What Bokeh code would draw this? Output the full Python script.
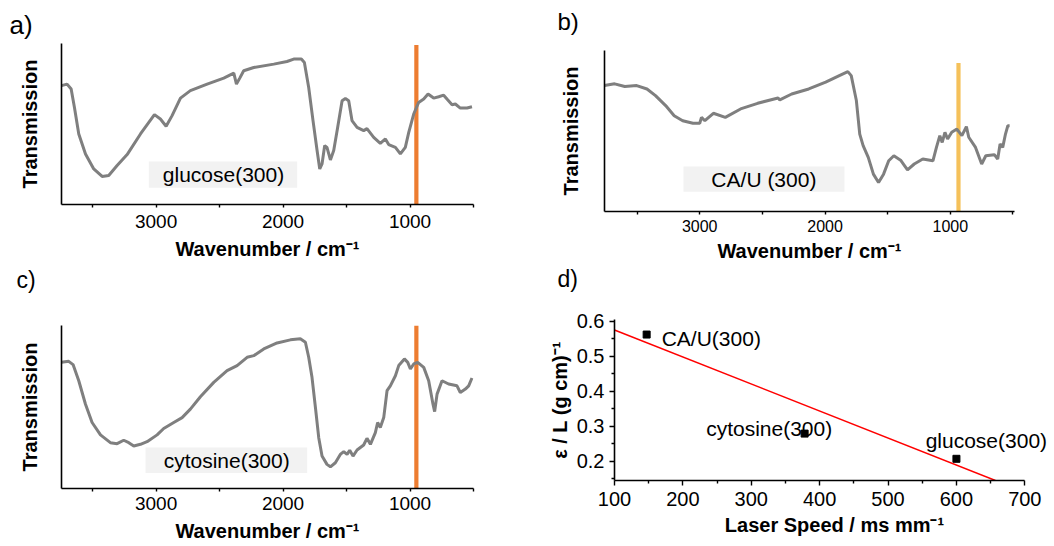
from bokeh.plotting import figure
from bokeh.layouts import column, row
from bokeh.models import FixedTicker, Label, LabelSet, BoxAnnotation, Range1d, ColumnDataSource
from bokeh.core.properties import value
from bokeh.embed import file_html
from bokeh.resources import INLINE

FONT = "Liberation Sans"
GRAY = "#7f7f7f"

# ---------------- data ----------------
# a) glucose(300)
a_wn = [3745, 3701, 3669, 3643, 3609, 3556, 3491, 3425, 3373, 3307, 3228, 3123, 3013, 2966, 2921,
        2874, 2808, 2730, 2598, 2467, 2388, 2367, 2341, 2310, 2231, 2073, 1969, 1916, 1856, 1832,
        1798, 1764, 1732, 1711, 1693, 1672, 1654, 1627, 1601, 1570, 1535, 1509, 1483, 1457, 1417,
        1365, 1339, 1286, 1234, 1194, 1168, 1115, 1076, 1037, 1010, 971, 932, 892, 858, 814,
        774, 735, 709, 669, 643, 604, 551, 512]
a_t = [73.8, 74.8, 71.7, 60.3, 43.8, 31.4, 22.1, 17.4, 18.0, 24.2, 31.0, 43.8, 55.8, 53.1, 48.6,
       55.2, 66.1, 70.7, 74.8, 78.5, 81.6, 74.8, 78.5, 83.1, 85.1, 87.2, 88.8, 90.3, 90.3, 88.2,
       72.7, 52.1, 33.5, 22.1, 25.2, 36.6, 35.5, 27.7, 33.5, 47.9, 64.5, 65.9, 64.5, 52.1, 47.9,
       45.9, 47.1, 41.7, 38.0, 40.7, 37.2, 35.5, 31.4, 35.5, 44.8, 56.2, 63.4, 65.5, 68.6, 66.1,
       66.9, 67.9, 65.5, 62.0, 62.4, 59.9, 59.9, 60.7]

# b) CA/U (300)
b_wn = [3761, 3679, 3598, 3503, 3421, 3353, 3272, 3204, 3136, 3054, 3000, 2986, 2959, 2891, 2796,
        2674, 2538, 2375, 2361, 2266, 2130, 1995, 1886, 1818, 1791, 1750, 1723, 1696, 1655, 1614,
        1573, 1533, 1492, 1451, 1397, 1342, 1288, 1220, 1139, 1111, 1084, 1065, 1043, 1022, 989,
        948, 908, 872, 853, 799, 750, 717, 649, 622, 603, 582, 560, 541, 527]
b_t = [78.2, 79.3, 77.6, 78.2, 76.1, 72.0, 65.8, 59.5, 56.4, 54.8, 54.8, 58.5, 56.4, 61.0, 58.5,
       63.7, 67.2, 70.5, 69.3, 73.0, 76.1, 80.3, 84.4, 86.9, 84.4, 68.9, 48.1, 40.9, 33.6, 23.2,
       18.0, 23.2, 31.5, 34.6, 31.9, 25.9, 29.5, 32.6, 31.5, 39.8, 47.1, 42.9, 49.2, 45.0, 49.2,
       51.2, 47.1, 52.7, 46.1, 39.8, 29.5, 34.6, 35.3, 32.6, 41.9, 39.8, 48.1, 53.3, 53.3]

# c) cytosine(300)
c_wn = [3745, 3688, 3654, 3609, 3556, 3504, 3438, 3360, 3307, 3255, 3215, 3176, 3123, 3071, 2992,
        2940, 2861, 2795, 2730, 2651, 2546, 2441, 2362, 2283, 2231, 2152, 2047, 1942, 1864, 1824,
        1798, 1772, 1745, 1719, 1693, 1654, 1627, 1588, 1549, 1522, 1496, 1475, 1449, 1417, 1365,
        1339, 1312, 1273, 1255, 1234, 1207, 1181, 1155, 1115, 1089, 1044, 1018, 997, 971, 940,
        892, 853, 819, 806, 787, 748, 696, 630, 604, 564, 538, 512]
c_t = [77.4, 78.0, 76.0, 66.1, 51.7, 40.5, 32.9, 28.1, 27.5, 29.6, 28.1, 26.1, 27.1, 28.7, 32.9,
       36.8, 40.5, 43.5, 48.7, 56.3, 65.1, 72.3, 75.4, 80.5, 81.5, 85.6, 89.3, 91.2, 91.8, 89.7,
       80.5, 68.2, 49.7, 31.2, 19.9, 14.8, 13.3, 15.8, 20.9, 22.6, 20.9, 23.4, 19.9, 23.6, 26.7,
       30.8, 27.1, 34.3, 40.5, 37.4, 43.5, 60.0, 63.0, 69.2, 75.4, 79.5, 77.4, 73.3, 76.4, 77.4,
       74.3, 66.1, 51.7, 47.2, 57.9, 66.1, 64.1, 63.0, 58.9, 61.0, 63.0, 67.8]

# marker wavenumber lines
marker_wn = [950, 935, 950]
marker_top = [99, 92.3, 100]

wn_ticks = [1000, 2000, 3000]
wn_minor = [500, 1500, 2500, 3500]

# d) epsilon / L vs laser speed
speed = [147, 378, 600]
eps = [0.562, 0.279, 0.207]
names = ["CA/U(300)", "cytosine(300)", "glucose(300)"]
name_x = [169, 234, 555]
name_y = [0.550, 0.295, 0.260]
fit_x = [100, 657]
fit_y = [0.575, 0.145]
speed_ticks = [100, 200, 300, 400, 500, 600, 700]
speed_minor = [150, 250, 350, 450, 550, 650]
eps_ticks = [0.2, 0.3, 0.4, 0.5, 0.6]
eps_minor = [0.15, 0.25, 0.35, 0.45, 0.55]

panel_letters = ["a)", "b)", "c)", "d)"]


def header(w, h, letter, lx, ly, size):
    p = figure(width=w, height=h, x_range=Range1d(0, w), y_range=Range1d(0, h),
               min_border=0, x_axis_location=None, y_axis_location=None,
               output_backend="svg", toolbar_location=None)
    p.grid.visible = False
    p.outline_line_color = None
    p.add_layout(Label(x=lx, y=ly, text=letter, text_font=FONT, text_font_size=size,
                       text_color="black", text_align="left", text_baseline="middle"))
    return p


def base_fig(w, h, left, right, top, bottom, xr, yr):
    p = figure(width=w, height=h, x_range=Range1d(*xr), y_range=Range1d(*yr),
               output_backend="svg", toolbar_location=None,
               min_border_left=left, min_border_right=right,
               min_border_top=top, min_border_bottom=bottom)
    p.frame_align = False
    p.grid.visible = False
    p.outline_line_color = None
    p.background_fill_color = "white"
    p.border_fill_color = "white"
    for ax in (p.xaxis[0], p.yaxis[0]):
        ax.axis_line_color = "black"
        ax.axis_line_width = 1.6
        ax.major_tick_line_color = "black"
        ax.minor_tick_line_color = "black"
        ax.major_tick_line_width = 1.4
        ax.minor_tick_line_width = 1.4
        ax.major_tick_in = 0
        ax.minor_tick_in = 0
        ax.major_label_text_font = FONT
        ax.major_label_text_color = "black"
        ax.axis_label_text_font = FONT
        ax.axis_label_text_font_style = "bold"
        ax.axis_label_text_color = "black"
    return p


def spectrum(wn, t, xr, dims, idx, name, box, name_pos, line_color,
             tick_font, tick_std, title_std, y_std):
    w, h, left, right, top, bottom = dims
    p = base_fig(w, h, left, right, top, bottom, xr, (0, 100))
    xa = p.xaxis[0]
    xa.ticker = FixedTicker(ticks=wn_ticks, minor_ticks=wn_minor)
    xa.major_tick_out = 3
    xa.minor_tick_out = 3
    xa.major_label_standoff = tick_std
    xa.major_label_text_font_size = tick_font
    xa.axis_label = "Wavenumber / cm\u207b\u00b9"
    xa.axis_label_text_font_size = "20px"
    xa.axis_label_standoff = title_std
    ya = p.yaxis[0]
    ya.ticker = FixedTicker(ticks=[], minor_ticks=[])
    ya.major_tick_out = 0
    ya.minor_tick_out = 0
    ya.major_label_standoff = 0
    ya.axis_label = "Transmission"
    ya.axis_label_text_font_size = "20px"
    ya.axis_label_standoff = y_std

    p.add_layout(BoxAnnotation(left=box[0], right=box[1], bottom=box[2], top=box[3],
                               fill_color="#f2f2f2", fill_alpha=1.0, line_color=None,
                               level="underlay"))
    p.add_layout(Label(x=name_pos[0], y=name_pos[1], text=name, text_font=FONT,
                       text_font_size="21px", text_color="black",
                       text_align="center", text_baseline="middle"))
    p.segment(x0=[marker_wn[idx]], y0=[0], x1=[marker_wn[idx]], y1=[marker_top[idx]],
              line_color=line_color, line_width=4.2)
    p.line(wn, t, line_color=GRAY, line_width=3)
    return p


# top header row (0-40), spectra a/b (40-264)
ha = header(527, 40, panel_letters[0], 9, 15.8, "26px")
hb = header(527, 40, panel_letters[1], 30, 19.5, "24px")
pa = spectrum(a_wn, a_t, (3745, 500), (527, 224, 61, 54, 3, 60), 0,
              "glucose(300)", (3057, 1889, 10.4, 26.7), (2469, 18.5),
              "#ed7d31", "19px", 7, 7, 21)
pb = spectrum(b_wn, b_t, (3760, 488), (527, 224, 77, 40, 10, 53), 1,
              "CA/U (300)", (3130, 1845, 12.2, 28.0), (2488, 20.1),
              "#f5c15a", "16px", 5, 5, 23)

# second header row (264-306), c/d (306-546)
hc = header(527, 42, panel_letters[2], 16, 27, "23px")
hd = header(527, 42, panel_letters[3], 30, 27.5, "23px")
pc = spectrum(c_wn, c_t, (3745, 500), (527, 240, 61, 54, 19, 58), 2,
              "cytosine(300)", (3083, 1810, 9.5, 25.2), (2444, 17.3),
              "#ed7d31", "19px", 5, 7, 21)

# ---------------- panel d ----------------
# frame runs to the right edge so that the glucose label is not clipped;
# the visible axis is bounded to 100-700
pd_ = base_fig(527, 240, 87, 0, 13, 66, (100, 743.4), (0.145, 0.605))
xa = pd_.xaxis[0]
xa.bounds = (100, 700)
xa.ticker = FixedTicker(ticks=speed_ticks, minor_ticks=speed_minor)
xa.major_tick_out = 5
xa.minor_tick_out = 3
xa.major_label_standoff = 6
xa.major_label_text_font_size = "20px"
xa.axis_label = "Laser Speed / ms mm\u207b\u00b9"
xa.axis_label_text_font_size = "20px"
xa.axis_label_standoff = 5
ya = pd_.yaxis[0]
ya.ticker = FixedTicker(ticks=eps_ticks, minor_ticks=eps_minor)
ya.major_tick_out = 5
ya.minor_tick_out = 3
ya.major_label_standoff = 5
ya.major_label_text_font_size = "20px"
ya.axis_label = "\u03b5 / L (g cm)\u207b\u00b9"
ya.axis_label_text_font_size = "20px"
ya.axis_label_standoff = 3

pd_.line(fit_x, fit_y, line_color="red", line_width=1.5)
pd_.scatter(speed, eps, marker="square", size=7, color="black")
name_src = ColumnDataSource(dict(x=name_x, y=name_y, text=names))
pd_.add_layout(LabelSet(x="x", y="y", text="text", source=name_src, text_font=value(FONT),
                        text_font_size=value("21px"), text_color="black",
                        text_align="left", text_baseline="middle"))

layout = column(row(ha, hb), row(pa, pb), row(hc, hd), row(pc, pd_))
open("out.html", "w").write(file_html(layout, INLINE))
